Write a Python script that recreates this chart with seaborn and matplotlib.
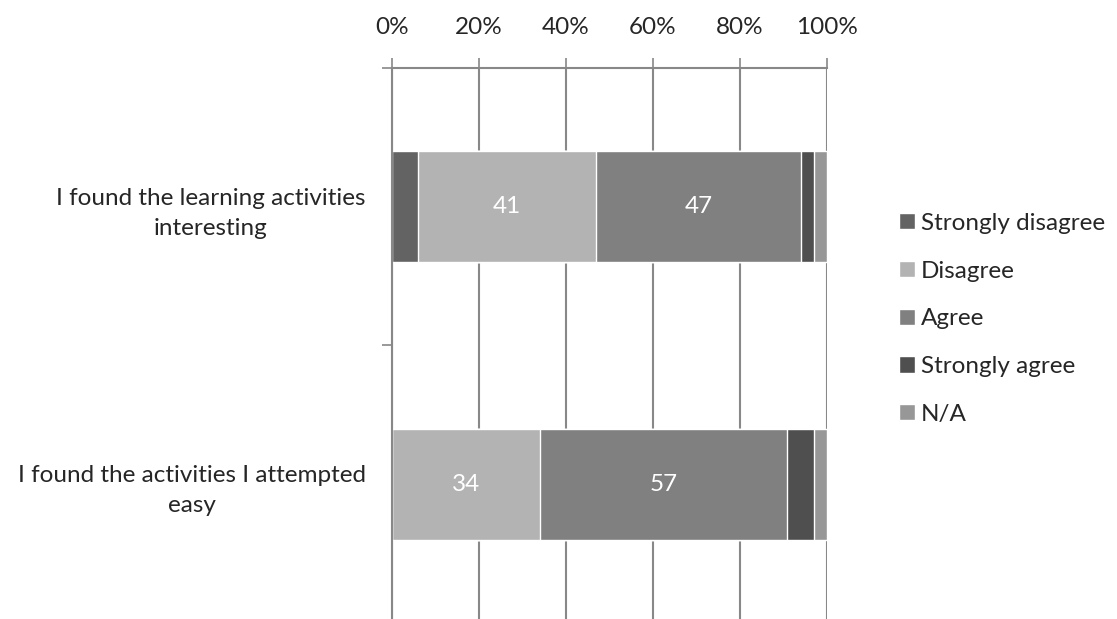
import matplotlib
matplotlib.use("Agg")
import matplotlib.pyplot as plt
import seaborn as sns
import pandas as pd
import numpy as np

questions = ["I found the learning activities\ninteresting",
             "I found the activities I attempted\neasy"]
responses = ["Strongly disagree", "Disagree", "Agree", "Strongly agree", "N/A"]
strongly_disagree = [6, 0]
disagree = [41, 34]
agree = [47, 57]
strongly_agree = [3, 6]
not_applicable = [3, 3]
colors = ["#636363", "#b3b3b3", "#808080", "#4f4f4f", "#979797"]

values = np.array([strongly_disagree, disagree, agree, strongly_agree, not_applicable])
cum = values.cumsum(axis=0)

sns.set_theme(style="white")
plt.rcParams['font.family'] = ['Lato', 'DejaVu Sans']
fs = 17.5

fig = plt.figure(figsize=(11.17, 6.19), dpi=100)
ax = fig.add_axes([0.351, -0.006, 0.389, 0.896])

# stacked bars: draw cumulative totals from the last segment back to the first
for i in range(len(responses) - 1, -1, -1):
    df = pd.DataFrame({"question": questions, "total": cum[i]})
    sns.barplot(data=df, x="total", y="question", orient="h", color=colors[i],
                width=0.4, ax=ax, saturation=1, label=responses[i])

for j in range(len(questions)):
    for i in range(len(responses)):
        v = values[i, j]
        if v >= 10:
            ax.text(cum[i, j] - v / 2, j, str(v), ha="center", va="center",
                    color="white", fontsize=fs)

ax.set_xlim(0, 100)
ax.set_ylim(1.5, -0.5)
ax.xaxis.tick_top()
ax.set_xticks(range(0, 101, 20))
ax.set_xticklabels([f"{t}%" for t in range(0, 101, 20)], fontsize=fs)
ax.tick_params(axis="x", which="major", length=7, width=1.2, color="#888888",
               direction="out", pad=15, top=True, bottom=False)
ax.set_yticks([0, 1])
ax.set_yticklabels(questions, fontsize=fs, multialignment="center", linespacing=1.55)
ax.tick_params(axis="y", which="major", length=0, pad=19)
ax.set_yticks([-0.5, 0.5], minor=True)
ax.tick_params(axis="y", which="minor", length=7, width=1.2, color="#888888", left=True)
ax.set_xlabel("")
ax.set_ylabel("")
ax.grid(axis="x", color="#888888", linewidth=1.5)
ax.set_axisbelow(True)
for s in ["right", "bottom"]:
    ax.spines[s].set_visible(False)
for s in ["top", "left"]:
    ax.spines[s].set_color("#888888")
    ax.spines[s].set_linewidth(1.5)

handles, labels = ax.get_legend_handles_labels()
order = [labels.index(r) for r in responses]
ax.legend([handles[k] for k in order], [labels[k] for k in order],
          loc="center left", bbox_to_anchor=(0.785, 0.485), bbox_transform=fig.transFigure,
          frameon=False, fontsize=fs, handlelength=0.65, handleheight=0.65,
          handletextpad=0.25, labelspacing=1.1)

fig.savefig("out.png", dpi=100)
